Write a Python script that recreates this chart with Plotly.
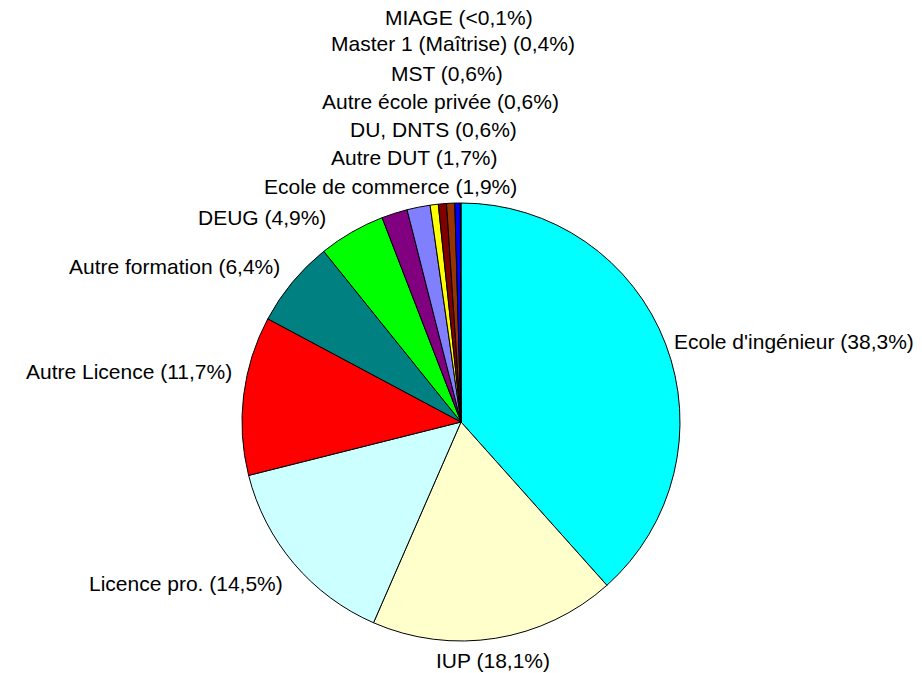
import plotly.graph_objects as go

W, H = 922, 673

labels = [
    "Ecole d'ingénieur",
    "IUP",
    "Licence pro.",
    "Autre Licence",
    "Autre formation",
    "DEUG",
    "Ecole de commerce",
    "Autre DUT",
    "DU, DNTS",
    "Autre école privée",
    "MST",
    "Master 1 (Maîtrise)",
    "MIAGE",
]
values = [38.3, 18.1, 14.5, 11.7, 6.4, 4.9, 1.9, 1.7, 0.6, 0.6, 0.6, 0.4, 0.05]
pct_text = ["38,3%", "18,1%", "14,5%", "11,7%", "6,4%", "4,9%", "1,9%",
            "1,7%", "0,6%", "0,6%", "0,6%", "0,4%", "<0,1%"]
colors = [
    "#00FFFF", "#FFFFCC", "#CCFFFF", "#FF0000", "#008080", "#00FF00",
    "#800080", "#8080FF", "#FFFF00", "#800000", "#993300", "#0000FF",
    "#000080",
]

# label placement in page pixels: (x, y, anchor)
label_pos = [
    (672, 341, "left"),
    (493, 660, "center"),
    (285, 583, "right"),
    (234, 371, "right"),
    (282, 267, "right"),
    (328, 218, "right"),
    (390, 186, "center"),
    (414, 157, "center"),
    (433, 129, "center"),
    (440, 101, "center"),
    (447, 73, "center"),
    (453, 44, "center"),
    (459, 17, "center"),
]


def px(x):
    return x / W


def py(y):
    return 1 - y / H


cx, cy, r = 461, 422, 219

fig = go.Figure(
    go.Pie(
        labels=labels,
        values=values,
        sort=False,
        direction="clockwise",
        rotation=0,
        textinfo="none",
        hoverinfo="label+percent",
        marker=dict(colors=colors, line=dict(color="black", width=1)),
        domain=dict(x=[px(cx - r), px(cx + r)], y=[py(cy + r), py(cy - r)]),
        showlegend=False,
    )
)

for lab, pct, (x, y, anchor) in zip(labels, pct_text, label_pos):
    fig.add_annotation(
        x=px(x), y=py(y), xref="paper", yref="paper",
        text=f"{lab} ({pct})", showarrow=False,
        xanchor=anchor, yanchor="middle",
        font=dict(size=21, color="black"),
    )

fig.update_layout(
    width=W,
    height=H,
    margin=dict(l=0, r=0, t=0, b=0),
    paper_bgcolor="white",
    plot_bgcolor="white",
    font=dict(family="Liberation Sans, Arial, sans-serif", size=21, color="black"),
)

# drop the default 8px body margin so the figure fills the window
fig.write_html(
    "out.html",
    config={"displayModeBar": False},
    post_script="document.body.style.margin='0';document.body.style.overflow='hidden';",
)
